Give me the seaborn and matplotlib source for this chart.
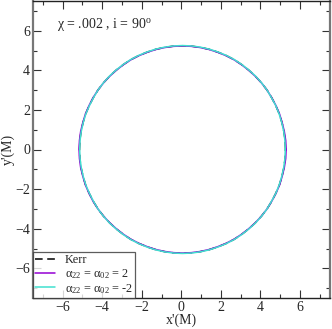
import numpy as np
import pandas as pd
import matplotlib
matplotlib.use("Agg")
import matplotlib.pyplot as plt
import seaborn as sns
from matplotlib.ticker import MultipleLocator

# ---- data (upper half of each shadow curve, 5 degree steps; lower half is the mirror image) ----
kerr_x = [5.27, 5.25, 5.19, 5.09, 4.96, 4.78, 4.57, 4.33, 4.05, 3.74,
          3.41, 3.05, 2.67, 2.26, 1.84, 1.41, 0.96, 0.51, 0.06,
          -0.39, -0.84, -1.29, -1.72, -2.14, -2.55, -2.93, -3.29, -3.62,
          -3.93, -4.21, -4.45, -4.66, -4.84, -4.97, -5.07, -5.13, -5.15]
kerr_y = [0.00, 0.46, 0.91, 1.36, 1.79, 2.21, 2.62, 3.01, 3.37, 3.71,
          4.01, 4.29, 4.54, 4.75, 4.92, 5.06, 5.16, 5.22, 5.24,
          5.22, 5.16, 5.06, 4.92, 4.75, 4.54, 4.29, 4.01, 3.71,
          3.37, 3.01, 2.62, 2.21, 1.79, 1.36, 0.91, 0.46, 0.00]
pos_x = [5.30, 5.28, 5.21, 5.10, 4.97, 4.79, 4.57, 4.33, 4.05, 3.74,
         3.41, 3.05, 2.67, 2.26, 1.84, 1.41, 0.96, 0.51, 0.06,
         -0.39, -0.84, -1.29, -1.72, -2.14, -2.55, -2.93, -3.29, -3.62,
         -3.93, -4.21, -4.46, -4.67, -4.85, -4.98, -5.09, -5.15, -5.17]
pos_y = [0.00, 0.46, 0.91, 1.36, 1.79, 2.21, 2.62, 3.01, 3.37, 3.70,
         4.00, 4.28, 4.53, 4.74, 4.91, 5.05, 5.15, 5.21, 5.23,
         5.21, 5.15, 5.05, 4.91, 4.74, 4.53, 4.28, 4.00, 3.70,
         3.37, 3.01, 2.62, 2.21, 1.79, 1.36, 0.91, 0.46, 0.00]
neg_x = [5.26, 5.24, 5.18, 5.08, 4.95, 4.78, 4.56, 4.33, 4.05, 3.74,
         3.41, 3.05, 2.67, 2.26, 1.84, 1.41, 0.96, 0.51, 0.06,
         -0.39, -0.84, -1.29, -1.72, -2.14, -2.55, -2.93, -3.29, -3.62,
         -3.93, -4.21, -4.44, -4.65, -4.83, -4.96, -5.06, -5.12, -5.14]
neg_y = [0.00, 0.46, 0.91, 1.36, 1.79, 2.21, 2.62, 3.01, 3.38, 3.72,
         4.02, 4.30, 4.55, 4.76, 4.93, 5.07, 5.17, 5.23, 5.25,
         5.23, 5.17, 5.07, 4.93, 4.76, 4.55, 4.30, 4.02, 3.72,
         3.38, 3.01, 2.62, 2.21, 1.79, 1.36, 0.91, 0.46, 0.00]

labels = ["Kerr",
          r"$\alpha_{22}$ = $\alpha_{02}$ = 2",
          r"$\alpha_{22}$ = $\alpha_{02}$ = -2"]
colors = ["black", "#9400d3", "#40e0d0"]
styles = [(0, (5, 3)), "-", "-"]

x_ticks = [-6, -4, -2, 0, 2, 4, 6]
y_ticks = [-6, -4, -2, 0, 2, 4, 6]

def full_curve(xs, ys):
    return list(xs) + list(xs[::-1]), list(ys) + [-v for v in ys[::-1]]

frames = []
for lab, xs, ys in zip(labels, [kerr_x, pos_x, neg_x], [kerr_y, pos_y, neg_y]):
    fx, fy = full_curve(xs, ys)
    frames.append(pd.DataFrame({"x": fx, "y": fy, "series": lab}))
df = pd.concat(frames, ignore_index=True)

sns.set_style("white")
plt.rcParams["font.family"] = ["Liberation Serif", "DejaVu Serif"]
plt.rcParams["mathtext.fontset"] = "custom"
plt.rcParams["mathtext.rm"] = "Liberation Serif"
plt.rcParams["mathtext.it"] = "Liberation Serif"
plt.rcParams["mathtext.bf"] = "Liberation Serif:bold"

fig = plt.figure(figsize=(3.32, 3.29), dpi=100)
ax = fig.add_axes([33 / 332, 31 / 329, 296.6 / 332, 297 / 329])

for lab, col, ls in zip(labels, colors, styles):
    sub = df[df["series"] == lab]
    sns.lineplot(data=sub, x="x", y="y", sort=False, estimator=None, ax=ax,
                 color=col, linestyle=ls, linewidth=1.1, label=lab)

ax.set_xlim(-7.5, 7.5)
ax.set_ylim(-7.5, 7.5)
ax.set_xticks(x_ticks)
ax.set_yticks(y_ticks)
ax.xaxis.set_minor_locator(MultipleLocator(1))
ax.yaxis.set_minor_locator(MultipleLocator(1))
ax.tick_params(which="both", direction="in", top=True, right=True, bottom=True, left=True,
               color="#333333", width=0.8)
ax.tick_params(which="major", length=6, labelsize=10, pad=2)
ax.tick_params(which="minor", length=3)
for side in ["left", "right"]:
    ax.spines[side].set_color("#777777")
    ax.spines[side].set_linewidth(1.6)
for side in ["top", "bottom"]:
    ax.spines[side].set_color("#222222")
    ax.spines[side].set_linewidth(1.0)

ax.set_xlabel("x'(M)", fontsize=10, labelpad=0)
ax.set_ylabel("y'(M)", fontsize=10, labelpad=0)

ax.text(0.08, 0.92, r"χ = .002 , i = 90$^{\mathrm{o}}$", transform=ax.transAxes,
        fontsize=10, ha="left", va="center")

leg = ax.legend(loc="lower left", bbox_to_anchor=(0, 0), borderaxespad=0, fontsize=8.8,
                frameon=True, fancybox=False, handlelength=1.6, handletextpad=0.8,
                labelspacing=0.08, borderpad=0.2)
leg.get_frame().set_edgecolor("#333333")
leg.get_frame().set_linewidth(0.9)

fig.savefig("out.png", dpi=100)
